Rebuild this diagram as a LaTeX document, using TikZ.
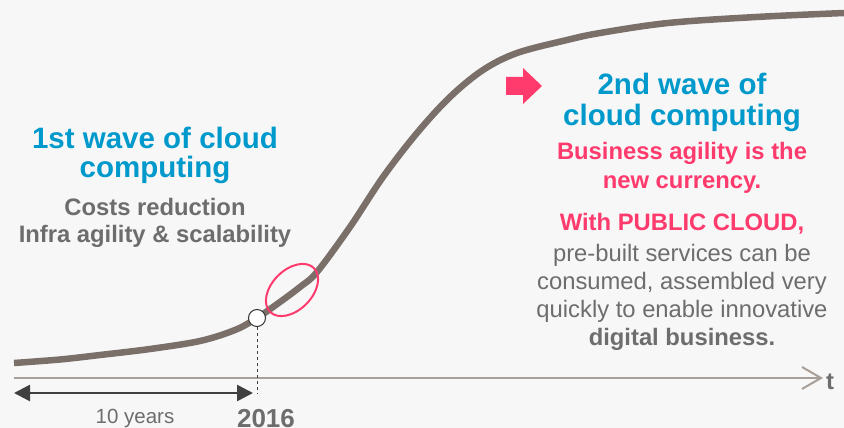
\documentclass[tikz,border=0pt]{standalone}
\usepackage{fontspec}
\setmainfont{Liberation Sans}
\usetikzlibrary{arrows.meta,shapes.geometric}
\definecolor{bg}{HTML}{F7F7F7}
\definecolor{blueT}{HTML}{0099CC}
\definecolor{pinkT}{HTML}{FF3B6E}
\definecolor{grayT}{HTML}{6D6D6D}
\definecolor{curveC}{HTML}{7A6F69}
\definecolor{axisC}{HTML}{A89F99}
\definecolor{darkA}{HTML}{404040}
\tikzset{
  titletxt/.style={font=\fontsize{29.5}{32}\selectfont\bfseries, text=blueT, anchor=base, inner sep=0pt},
  pinktxt/.style={font=\fontsize{23.8}{27}\selectfont\bfseries, text=pinkT, anchor=base, inner sep=0pt},
  graybold/.style={font=\fontsize{23.8}{27}\selectfont\bfseries, text=grayT, anchor=base, inner sep=0pt},
  grayreg/.style={font=\fontsize{23.8}{27}\selectfont, text=grayT, anchor=base, inner sep=0pt},
}
\begin{document}
\begin{tikzpicture}[x=1pt,y=-1pt]
\fill[bg] (0,0) rectangle (844,428);
\useasboundingbox (0,0) rectangle (844,428);

% S-curve
\draw[curveC, line width=6.5pt, line cap=butt]
  plot[smooth, tension=0.55] coordinates {(14,363) (60,359.5) (100,355) (150,349) (200,341) (235,330) (257,318) (280,302) (300,287) (317,272) (350,227) (383,177) (417,133) (450,97) (483,70) (517,53) (567,40) (600,33) (668,23) (756,17) (844,13)};

% highlight ellipse
\node[ellipse, draw=pinkT, line width=2pt, minimum width=62pt, minimum height=40pt, rotate=45, inner sep=0pt] (hl) at (292,290) {};

% axis
\coordinate (ax0) at (14,378);
\coordinate (ax1) at (823,378);
\draw[axisC, line width=2pt, -{Straight Barb[length=19pt, width=22pt, line width=2pt]}] (ax0) -- (ax1);
\node[graybold, anchor=base west] (t) at (826,389) {t};

% 2016 marker
\node[circle, draw=black!80, fill=white, line width=1pt, minimum size=17pt, inner sep=0pt] (dot) at (257,318) {};
\coordinate (dashend) at (257,394);
\draw[black!75, line width=0.9pt, dash pattern=on 3pt off 3pt] (dot.south) -- (dashend);

% 10-year span
\coordinate (sp0) at (14,393);
\coordinate (sp1) at (253,393);
\draw[darkA, line width=2.5pt, {Triangle[length=16pt, width=16pt]}-{Triangle[length=16pt, width=16pt]}] (sp0) -- (sp1);
\node[grayreg, font=\fontsize{20.5}{24}\selectfont] (yrs) at (135,423) {10 years};
\node[graybold, font=\fontsize{26}{30}\selectfont\bfseries] (yr) at (266,427) {2016};

% left block
\node[titletxt] (l1) at (155,148) {1st wave of cloud};
\node[titletxt] (l2) at (155,177) {computing};
\node[graybold] (l3) at (155,215) {Costs reduction};
\node[graybold] (l4) at (155,242) {Infra agility \& scalability};

% pink arrow
\fill[pinkT] (506,77) -- (523,77) -- (523,68) -- (542,86) -- (523,104) -- (523,95) -- (506,95) -- cycle;

% right block
\node[titletxt] (r1) at (682,95) {2nd wave of};
\node[titletxt] (r2) at (682,125) {cloud computing};
\node[pinktxt] (r3) at (682,159) {Business agility is the};
\node[pinktxt] (r4) at (682,188) {new currency.};
\node[pinktxt] (r5) at (682,230) {With PUBLIC CLOUD,};
\node[grayreg] (r6) at (682,261) {pre-built services can be};
\node[grayreg] (r7) at (682,289) {consumed, assembled very};
\node[grayreg] (r8) at (682,317) {quickly to enable innovative};
\node[graybold] (r9) at (682,345) {digital business.};
\end{tikzpicture}
\end{document}
